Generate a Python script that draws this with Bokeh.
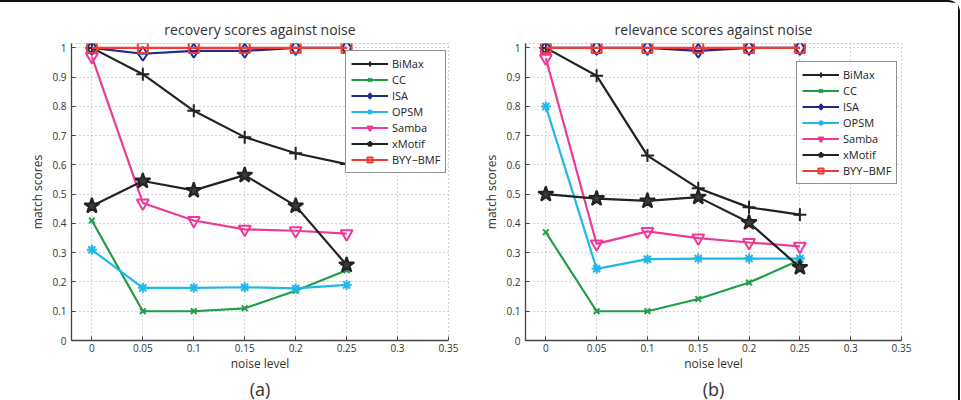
from bokeh.plotting import figure
from bokeh.layouts import row
from bokeh.models import Range1d, FixedTicker, Legend, LegendItem, Title
from bokeh.embed import file_html
from bokeh.resources import INLINE

noise = [0, 0.05, 0.1, 0.15, 0.2, 0.25]
methods = ["BiMax", "CC", "ISA", "OPSM", "Samba", "xMotif", "BYY\u2212BMF"]

# recovery scores (a)
rec_bimax = [1.0, 0.91, 0.785, 0.695, 0.64, 0.603]
rec_cc = [0.41, 0.10, 0.10, 0.11, 0.17, 0.24]
rec_isa = [1.0, 0.98, 0.99, 0.99, 1.0, 1.0]
rec_opsm = [0.31, 0.18, 0.18, 0.182, 0.178, 0.19]
rec_samba = [0.97, 0.47, 0.41, 0.38, 0.375, 0.365]
rec_xmotif = [0.46, 0.545, 0.513, 0.565, 0.46, 0.258]
rec_byy = [1.0, 1.0, 1.0, 1.0, 1.0, 1.0]

# relevance scores (b)
rel_bimax = [1.0, 0.905, 0.632, 0.52, 0.455, 0.43]
rel_cc = [0.37, 0.10, 0.10, 0.142, 0.198, 0.275]
rel_isa = [1.0, 1.0, 1.0, 0.99, 1.0, 1.0]
rel_opsm = [0.80, 0.245, 0.278, 0.28, 0.28, 0.28]
rel_samba = [0.965, 0.33, 0.373, 0.35, 0.335, 0.322]
rel_xmotif = [0.50, 0.485, 0.477, 0.49, 0.403, 0.25]
rel_byy = [1.0, 1.0, 1.0, 1.0, 1.0, 1.0]

x_ticks = [0, 0.05, 0.1, 0.15, 0.2, 0.25, 0.3, 0.35]
x_tick_labels = ["0", "0.05", "0.1", "0.15", "0.2", "0.25", "0.3", "0.35"]
y_ticks = [0, 0.1, 0.2, 0.3, 0.4, 0.5, 0.6, 0.7, 0.8, 0.9, 1.0]
y_tick_labels = ["0", "0.1", "0.2", "0.3", "0.4", "0.5", "0.6", "0.7", "0.8", "0.9", "1"]

FONT = "Open Sans"

styles = [
    dict(color="#222222", marker="cross", size=13, fill=None),
    dict(color="#1e9e45", marker="x", size=8, fill=None),
    dict(color="#1c2b8c", marker="diamond", size=14, fill=None),
    dict(color="#22b7ea", marker="asterisk", size=10, fill=None),
    dict(color="#ec3a98", marker="inverted_triangle", size=12, fill=None),
    dict(color="#222222", marker="star", size=16, fill="#3a3a3a"),
    dict(color="#ef3b36", marker="square", size=10, fill=None),
]


def make_plot(series, title, panel, width, left, right, legend_xy):
    p = figure(width=width, height=398, output_backend="svg", toolbar_location=None,
               x_range=Range1d(-0.02, 0.35), y_range=Range1d(0, 1.015),
               min_border_left=left, min_border_right=right,
               min_border_top=41, min_border_bottom=60)
    p.title.text = title
    p.title.align = "center"
    p.title.text_font = FONT
    p.title.text_font_style = "normal"
    p.title.text_font_size = "14px"
    p.title.text_color = "#333333"
    p.title.standoff = 9
    p.background_fill_color = "white"
    p.border_fill_color = "white"
    p.outline_line_color = "#9a9a9a"
    p.outline_line_dash = "1 3"
    p.outline_line_width = 1

    for ax, ticks, labels in ((p.xaxis, x_ticks, x_tick_labels), (p.yaxis, y_ticks, y_tick_labels)):
        ax.ticker = FixedTicker(ticks=ticks)
        ax.major_label_overrides = {t: l for t, l in zip(ticks, labels)}
        ax.minor_tick_line_color = None
        ax.major_tick_in = 4
        ax.major_tick_out = 0
        ax.axis_line_color = "#444444"
        ax.axis_line_width = 1.3
        ax.major_tick_line_color = "#444444"
        ax.major_label_text_font = FONT
        ax.major_label_text_font_size = "10px"
        ax.major_label_text_color = "#333333"
        ax.axis_label_text_font = FONT
        ax.axis_label_text_font_size = "12px"
        ax.axis_label_text_font_style = "normal"
        ax.axis_label_text_color = "#333333"
    p.xaxis.axis_label = "noise level"
    p.yaxis.axis_label = "match scores"
    p.xaxis.major_label_standoff = 3
    p.xaxis.axis_label_standoff = 0
    p.yaxis.major_label_standoff = 5
    p.yaxis.axis_label_standoff = 3

    for g in (p.xgrid, p.ygrid):
        g.grid_line_color = "#a8a8a8"
        g.grid_line_dash = "1 3"
        g.grid_line_width = 1
    p.xgrid.ticker = FixedTicker(ticks=x_ticks)
    p.ygrid.ticker = FixedTicker(ticks=y_ticks)

    items = []
    for name, ys, st in zip(methods, series, styles):
        lr = p.line(noise, ys, line_color=st["color"], line_width=2.2)
        sr = p.scatter(noise, ys, marker=st["marker"], size=st["size"],
                       line_color=st["color"], line_width=2,
                       fill_color=st["fill"] if st["fill"] else "white",
                       fill_alpha=1.0 if st["fill"] else 0.0)
        items.append(LegendItem(label=name, renderers=[lr, sr]))

    leg = Legend(items=items, location=legend_xy)
    leg.label_text_font = FONT
    leg.label_text_font_size = "11px"
    leg.label_text_color = "#222222"
    leg.glyph_width = 37
    leg.glyph_height = 13
    leg.label_height = 13
    leg.spacing = 1
    leg.padding = 5
    leg.margin = 0
    leg.label_standoff = 4
    leg.border_line_color = "#222222"
    leg.border_line_width = 1.3
    leg.background_fill_alpha = 1.0
    p.add_layout(leg, "center")

    sub = Title(text=panel, align="center", text_font=FONT, text_font_size="18px",
                text_font_style="normal", text_color="#333333", standoff=0, offset=0)
    p.add_layout(sub, "below")
    return p


p1 = make_plot([rec_bimax, rec_cc, rec_isa, rec_opsm, rec_samba, rec_xmotif, rec_byy],
               "recovery scores against noise", "(a)", 480, 71, 32, (274, 167))
p2 = make_plot([rel_bimax, rel_cc, rel_isa, rel_opsm, rel_samba, rel_xmotif, rel_byy],
               "relevance scores against noise", "(b)", 478, 44, 57, (271, 156))

layout = row(p1, p2, styles={"border-top": "2px solid #111111",
                             "border-right": "2px solid #111111",
                             "border-top-right-radius": "12px",
                             "background-color": "white"})

open("out.html", "w").write(file_html(layout, INLINE))
